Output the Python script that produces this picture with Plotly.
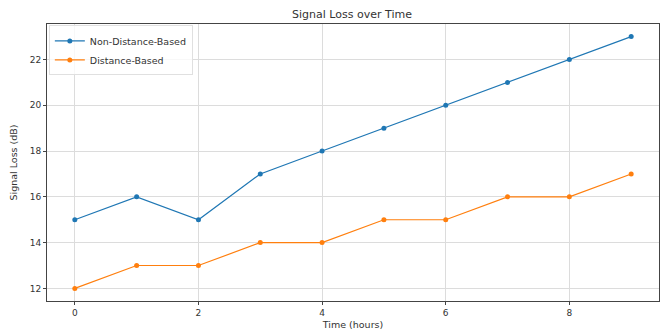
import plotly.graph_objects as go

time_hours = [0, 1, 2, 3, 4, 5, 6, 7, 8, 9]
non_distance_based = [15, 16, 15, 17, 18, 19, 20, 21, 22, 23]
distance_based = [12, 13, 13, 14, 14, 15, 15, 16, 16, 17]
x_ticks = [0, 2, 4, 6, 8]
y_ticks = [12, 14, 16, 18, 20, 22]

# The page body has an 8px default margin, so the figure is sized to fit the window.
W, H = 660, 323

fig = go.Figure()
fig.add_trace(go.Scatter(x=time_hours, y=non_distance_based, mode="lines+markers",
                         name="Non-Distance-Based",
                         line=dict(color="#1f77b4", width=1.2),
                         marker=dict(color="#1f77b4", size=5)))
fig.add_trace(go.Scatter(x=time_hours, y=distance_based, mode="lines+markers",
                         name="Distance-Based",
                         line=dict(color="#ff7f0e", width=1.2),
                         marker=dict(color="#ff7f0e", size=5)))

fig.update_layout(
    width=W, height=H,
    margin=dict(l=39, r=9, t=16, b=30, autoexpand=False),
    paper_bgcolor="white", plot_bgcolor="white",
    font=dict(family="DejaVu Sans", size=9, color="#333"),
    title=dict(text="Signal Loss over Time", x=344 / W, xanchor="center",
               y=1 - 6 / H, yanchor="middle", font=dict(size=11, color="#333")),
    legend=dict(x=0.003, y=0.995, xanchor="left", yanchor="top",
                bgcolor="rgba(255,255,255,0.8)", bordercolor="#e0e0e0", borderwidth=1,
                font=dict(size=9.5), tracegroupgap=0, itemwidth=30),
    showlegend=True,
)
fig.update_xaxes(range=[-0.45, 9.45], tickvals=x_ticks, ticktext=[str(v) for v in x_ticks],
                 showgrid=True, gridcolor="#dcdcdc", gridwidth=1, automargin=False,
                 showline=True, linecolor="#444", mirror=True, ticks="outside",
                 ticklen=3, tickcolor="#444", zeroline=False,
                 title=dict(text="Time (hours)", standoff=4, font=dict(size=9.5)))
fig.update_yaxes(range=[11.45, 23.55], tickvals=y_ticks, ticktext=[str(v) for v in y_ticks],
                 showgrid=True, gridcolor="#dcdcdc", gridwidth=1, automargin=False,
                 showline=True, linecolor="#444", mirror=True, ticks="outside",
                 ticklen=3, tickcolor="#444", zeroline=False,
                 title=dict(text="Signal Loss (dB)", standoff=10, font=dict(size=9.5)))

fig.write_html("out.html")
